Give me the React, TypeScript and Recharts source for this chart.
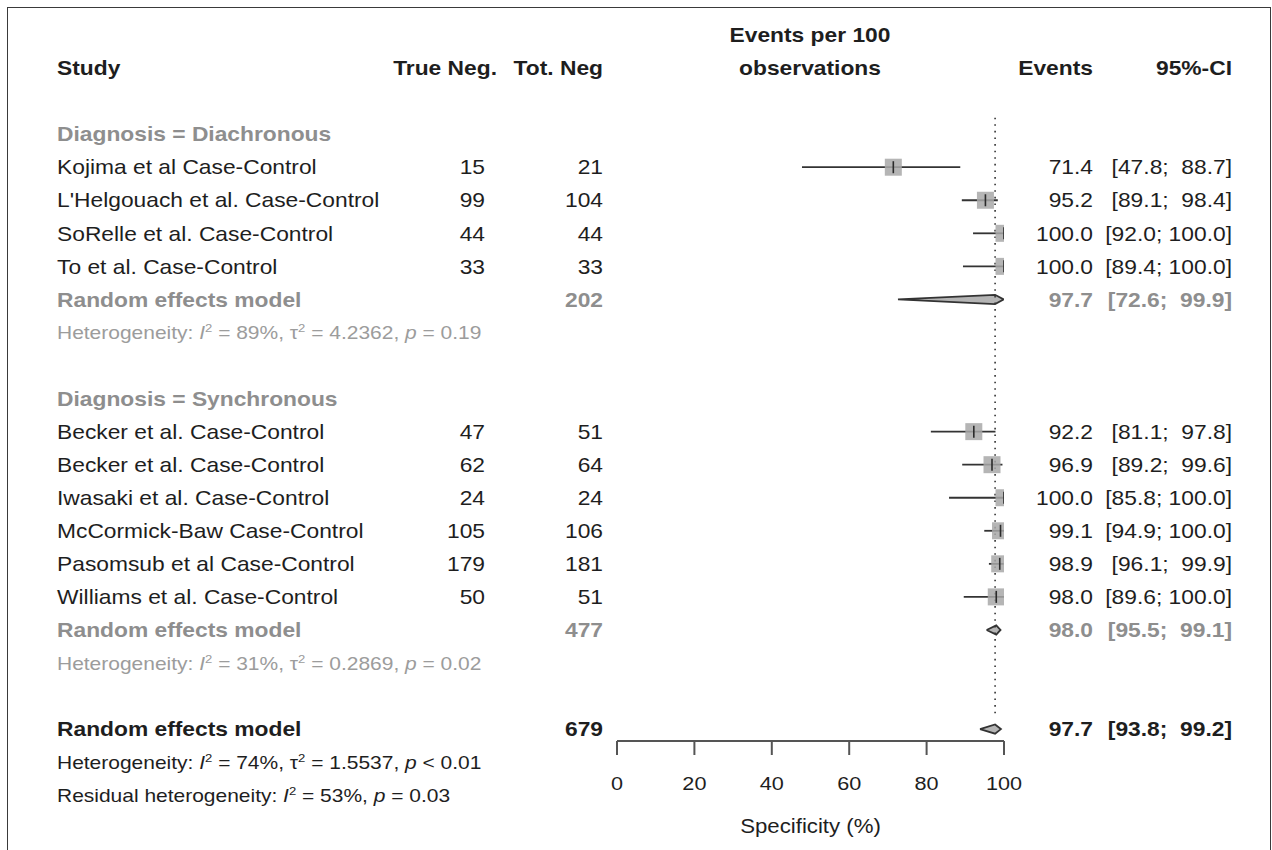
import React from 'react';
import {
  ComposedChart, Scatter, Area, XAxis, YAxis, ErrorBar, ReferenceLine,
} from 'recharts';

// study level data
const studyNames = [
  'Kojima et al Case-Control',
  "L'Helgouach et al. Case-Control",
  'SoRelle et al. Case-Control',
  'To et al. Case-Control',
  'Becker et al. Case-Control',
  'Becker et al. Case-Control',
  'Iwasaki et al. Case-Control',
  'McCormick-Baw Case-Control',
  'Pasomsub et al Case-Control',
  'Williams et al. Case-Control',
];
const studyGroup = [0, 0, 0, 0, 1, 1, 1, 1, 1, 1];
const trueNeg = [15, 99, 44, 33, 47, 62, 24, 105, 179, 50];
const totNeg = [21, 104, 44, 33, 51, 64, 24, 106, 181, 51];
const estimate = [71.4, 95.2, 100.0, 100.0, 92.2, 96.9, 100.0, 99.1, 98.9, 98.0];
const ciLower = [47.8, 89.1, 92.0, 89.4, 81.1, 89.2, 85.8, 94.9, 96.1, 89.6];
const ciUpper = [88.7, 98.4, 100.0, 100.0, 97.8, 99.6, 100.0, 100.0, 99.9, 100.0];

// subgroups + overall
const groupNames = ['Diachronous', 'Synchronous'];
const pooledTotal = [202, 477, 679];
const pooledEst = [97.7, 98.0, 97.7];
const pooledLower = [72.6, 95.5, 93.8];
const pooledUpper = [99.9, 99.1, 99.2];
const hetI2 = ['89%', '31%', '74%'];
const hetTau2 = ['4.2362', '0.2869', '1.5537'];
const hetP = ['= 0.19', '= 0.02', '< 0.01'];
const residualI2 = '53%';
const residualP = '= 0.03';

const xTicks = [0, 20, 40, 60, 80, 100];

const SX = 1.14; // source picture is a bit stretched horizontally
const BLACK = '#1e1e1e';
const GREY = '#8e8e8e';
const FONT = '"Liberation Sans", Arial, Helvetica, sans-serif';

const COL_STUDY = 57;
const COL_TN = 485;
const COL_TOT = 603;
const COL_EV = 1093;
const COL_CI = 1232;
const CENTER = 810;

type Row = { kind: string; idx: number };

// build row layout: y position = row number
const rows: Record<number, Row> = {};
let r = -1;
rows[r++] = { kind: 'header1', idx: 0 };
rows[r++] = { kind: 'header', idx: 0 };
const studyRow: number[] = [];
const pooledRow: number[] = [];
groupNames.forEach((_, g) => {
  r++;
  rows[r++] = { kind: 'group', idx: g };
  studyNames.forEach((_, i) => {
    if (studyGroup[i] === g) {
      studyRow[i] = r;
      rows[r++] = { kind: 'study', idx: i };
    }
  });
  pooledRow[g] = r;
  rows[r++] = { kind: 'pooled', idx: g };
  rows[r++] = { kind: 'het', idx: g };
});
r++;
pooledRow[2] = r;
rows[r++] = { kind: 'overall', idx: 2 };
rows[r++] = { kind: 'overallHet', idx: 2 };
rows[r++] = { kind: 'residual', idx: 2 };
const rowTicks = Object.keys(rows).map(Number);

const studyData = studyNames.map((_, i) => ({
  x: estimate[i],
  y: studyRow[i],
  err: [estimate[i] - ciLower[i], ciUpper[i] - estimate[i]],
}));

const DH = 0.14;
const diamonds = pooledEst.map((est, k) => {
  const y = pooledRow[k];
  return [
    { x: pooledLower[k], y },
    { x: est, y: y - DH },
    { x: pooledUpper[k], y },
    { x: est, y: y + DH },
    { x: pooledLower[k], y },
  ];
});
// same diamonds as range areas for the grey fill
const diamondFills = pooledEst.map((est, k) => {
  const y = pooledRow[k];
  return [
    { x: pooledLower[k], band: [y, y] },
    { x: est, band: [y + DH, y - DH] },
    { x: pooledUpper[k], band: [y, y] },
  ];
});

const fmt = (v: number) => v.toFixed(1);
const ciText = (lo: number, hi: number) =>
  `[${fmt(lo).padStart(4)}; ${fmt(hi).padStart(5)}]`;

const Txt = ({ x, y, anchor = 'start', size = 20, weight = 'normal', color = BLACK, children }: any) => (
  <text
    transform={`translate(${x},${y}) scale(${SX},1)`}
    textAnchor={anchor}
    fontSize={size}
    fontWeight={weight}
    fill={color}
    fontFamily={FONT}
    dy="0.36em"
    style={{ whiteSpace: 'pre' }}
  >
    {children}
  </text>
);

const HetText = ({ y, k, color, residual }: any) => {
  const size = 18.4;
  const sup = 11.5;
  if (residual) {
    return (
      <Txt x={COL_STUDY} y={y} size={size} color={color}>
        <tspan>Residual heterogeneity: </tspan>
        <tspan fontStyle="italic">I</tspan>
        <tspan fontSize={sup} dy={-7}>2</tspan>
        <tspan dy={7}>{` = ${residualI2}, `}</tspan>
        <tspan fontStyle="italic">p</tspan>
        <tspan>{` ${residualP}`}</tspan>
      </Txt>
    );
  }
  return (
    <Txt x={COL_STUDY} y={y} size={size} color={color}>
      <tspan>Heterogeneity: </tspan>
      <tspan fontStyle="italic">I</tspan>
      <tspan fontSize={sup} dy={-7}>2</tspan>
      <tspan dy={7}>{` = ${hetI2[k]}, \u03c4`}</tspan>
      <tspan fontSize={sup} dy={-7}>2</tspan>
      <tspan dy={7}>{` = ${hetTau2[k]}, `}</tspan>
      <tspan fontStyle="italic">p</tspan>
      <tspan>{` ${hetP[k]}`}</tspan>
    </Txt>
  );
};

const RowTick = (props: any) => {
  const { y, payload } = props;
  const row = rows[payload.value];
  if (!row) return null;
  const i = row.idx;
  switch (row.kind) {
    case 'header1':
      return <Txt x={CENTER} y={y} anchor="middle" weight="bold">Events per 100</Txt>;
    case 'header':
      return (
        <g>
          <Txt x={COL_STUDY} y={y} weight="bold">Study</Txt>
          <Txt x={COL_TN + 12} y={y} anchor="end" weight="bold">True Neg.</Txt>
          <Txt x={COL_TOT} y={y} anchor="end" weight="bold">Tot. Neg</Txt>
          <Txt x={CENTER} y={y} anchor="middle" weight="bold">observations</Txt>
          <Txt x={COL_EV} y={y} anchor="end" weight="bold">Events</Txt>
          <Txt x={COL_CI} y={y} anchor="end" weight="bold">95%-CI</Txt>
        </g>
      );
    case 'group':
      return <Txt x={COL_STUDY} y={y} weight="bold" color={GREY}>{`Diagnosis = ${groupNames[i]}`}</Txt>;
    case 'study':
      return (
        <g>
          <Txt x={COL_STUDY} y={y}>{studyNames[i]}</Txt>
          <Txt x={COL_TN} y={y} anchor="end">{trueNeg[i]}</Txt>
          <Txt x={COL_TOT} y={y} anchor="end">{totNeg[i]}</Txt>
          <Txt x={COL_EV} y={y} anchor="end">{fmt(estimate[i])}</Txt>
          <Txt x={COL_CI} y={y} anchor="end">{ciText(ciLower[i], ciUpper[i])}</Txt>
        </g>
      );
    case 'pooled':
    case 'overall': {
      const c = row.kind === 'pooled' ? GREY : BLACK;
      return (
        <g>
          <Txt x={COL_STUDY} y={y} weight="bold" color={c}>Random effects model</Txt>
          <Txt x={COL_TOT} y={y} anchor="end" weight="bold" color={c}>{pooledTotal[i]}</Txt>
          <Txt x={COL_EV} y={y} anchor="end" weight="bold" color={c}>{fmt(pooledEst[i])}</Txt>
          <Txt x={COL_CI} y={y} anchor="end" weight="bold" color={c}>{ciText(pooledLower[i], pooledUpper[i])}</Txt>
        </g>
      );
    }
    case 'het':
      return <HetText y={y} k={i} color="#9c9c9c" />;
    case 'overallHet':
      return <HetText y={y} k={i} color={BLACK} />;
    case 'residual':
      return <HetText y={y} k={i} color={BLACK} residual />;
    default:
      return null;
  }
};

const SquareShape = (props: any) => {
  const { cx, cy } = props;
  const s = 8.5;
  return (
    <g>
      <rect x={cx - s} y={cy - s} width={2 * s} height={2 * s} fill="#a8a8a8" fillOpacity={0.85} />
      <line x1={cx} x2={cx} y1={cy - 6} y2={cy + 6} stroke="#2a2a2a" strokeWidth={1.6} />
    </g>
  );
};

const XTick = (props: any) => {
  const { x, y, payload } = props;
  return <Txt x={x} y={y + 28} anchor="middle" size={19}>{payload.value}</Txt>;
};

const AxisTitle = (props: any) => {
  const { viewBox } = props;
  return (
    <Txt x={viewBox.x + viewBox.width / 2} y={viewBox.y + 85} anchor="middle" size={19.5}>
      Specificity (%)
    </Txt>
  );
};

export default function App() {
  return (
    <div style={{ position: 'absolute', left: 0, top: 0, width: 1272, height: 850, background: '#fff', overflow: 'hidden' }}>
      <div
        style={{
          position: 'absolute', left: 7, top: 7, width: 1262, height: 900,
          borderTop: '1.5px solid #3a3a3a', borderLeft: '1.5px solid #3a3a3a', borderRight: '1.5px solid #3a3a3a',
        }}
      />
      <div style={{ position: 'absolute', left: 0, top: 0 }}>
        <ComposedChart width={1272} height={850} margin={{ top: 35, right: 268, bottom: 0, left: 0 }}>
          <XAxis
            type="number"
            dataKey="x"
            domain={[0, 100]}
            ticks={xTicks}
            interval={0}
            height={109}
            allowDataOverflow
            axisLine={{ stroke: '#555', strokeWidth: 2 }}
            tickLine={{ stroke: '#555', strokeWidth: 2 }}
            tickSize={14}
            tickMargin={0}
            tick={<XTick />}
            label={<AxisTitle />}
          />
          <YAxis
            type="number"
            dataKey="y"
            domain={[-1, 20.36]}
            reversed
            allowDataOverflow
            ticks={rowTicks}
            interval={0}
            width={617}
            axisLine={false}
            tickLine={false}
            tick={<RowTick />}
          />
          <ReferenceLine
            segment={[{ x: pooledEst[2], y: 1.5 }, { x: pooledEst[2], y: 19.55 }]}
            stroke="#333"
            strokeWidth={1.6}
            strokeDasharray="1.6 5"
          />
          {diamondFills.map((d, k) => (
            <Area
              key={`f${k}`}
              data={d}
              dataKey="band"
              type="linear"
              stroke="none"
              fill="#b4b4b4"
              fillOpacity={1}
              dot={false}
              activeDot={false}
              isAnimationActive={false}
            />
          ))}
          <Scatter data={studyData} shape={<SquareShape />} isAnimationActive={false}>
            <ErrorBar dataKey="err" direction="x" width={0} stroke="#333" strokeWidth={1.8} />
          </Scatter>
          {diamonds.map((d, k) => (
            <Scatter
              key={k}
              data={d}
              line={{ stroke: '#333', strokeWidth: 1.8 }}
              lineType="joint"
              shape={() => <g />}
              isAnimationActive={false}
            />
          ))}
        </ComposedChart>
      </div>
    </div>
  );
}
